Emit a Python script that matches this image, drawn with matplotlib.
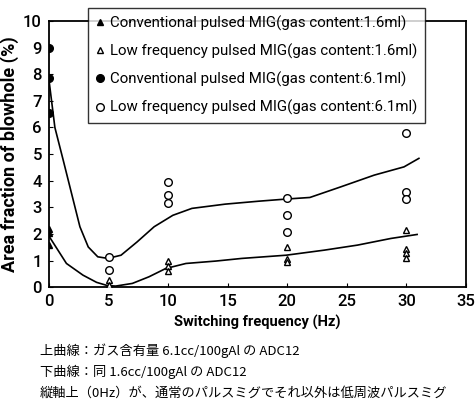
"""Blowhole area fraction vs switching frequency (pulsed MIG)."""

import matplotlib

matplotlib.use("Agg")
import matplotlib.pyplot as plt

# measured points
conv_16_x = [0, 0, 0]
conv_16_y = [1.58, 2.05, 2.2]
low_16_x = [5, 5, 10, 10, 10, 20, 20, 20, 30, 30, 30, 30]
low_16_y = [0.26, 0.08, 1.0, 0.8, 0.6, 1.51, 1.05, 0.95, 2.14, 1.45, 1.27, 1.08]
conv_61_x = [0, 0, 0]
conv_61_y = [8.97, 7.85, 6.53]
low_61_x = [5, 5, 10, 10, 10, 20, 20, 20, 30, 30, 30]
low_61_y = [1.14, 0.64, 3.96, 3.46, 3.17, 3.36, 2.73, 2.08, 5.80, 3.58, 3.31]

# hand-drawn trend curves
upper_x = [0.0, 0.5, 1.2, 1.9, 2.6, 3.3, 4.1, 4.94, 6.05, 7.4, 8.83, 10.4,
           12.0, 14.8, 17.6, 19.9, 21.9, 24.5, 27.3, 29.8, 31.05]
upper_y = [7.8, 6.0, 4.77, 3.52, 2.27, 1.51, 1.14, 1.08, 1.2, 1.7, 2.27, 2.7,
           2.96, 3.12, 3.23, 3.31, 3.37, 3.77, 4.21, 4.52, 4.84]
lower_x = [0.0, 1.47, 2.86, 4.0, 4.9, 5.6, 7.0, 8.4, 9.8, 11.5, 14.0, 16.2,
           19.9, 23.1, 25.9, 28.7, 30.9]
lower_y = [1.92, 0.89, 0.45, 0.18, 0.06, 0.04, 0.14, 0.39, 0.70, 0.89, 0.98,
           1.08, 1.2, 1.39, 1.58, 1.83, 1.98]

x_ticks = [0, 5, 10, 15, 20, 25, 30, 35]
y_ticks = list(range(0, 11))

legend_labels = [
    "Conventional pulsed MIG(gas content:1.6ml)",
    "Low frequency pulsed MIG(gas content:1.6ml)",
    "Conventional pulsed MIG(gas content:6.1ml)",
    "Low frequency pulsed MIG(gas content:6.1ml)",
]

notes = [
    "上曲線：ガス含有量 6.1cc/100gAl の ADC12",
    "下曲線：同 1.6cc/100gAl の ADC12",
    "縦軸上（0Hz）が、通常のパルスミグでそれ以外は低周波パルスミグ",
]

LATIN = ["Roboto", "DejaVu Sans"]
CJK = ["Noto Sans CJK JP", "DejaVu Sans"]

fig = plt.figure(figsize=(4.75, 4.05), dpi=100)
ax = fig.add_axes([0.103, 0.291, 0.878, 0.657])

ax.plot(upper_x, upper_y, color="black", lw=1.2, zorder=2)
ax.plot(lower_x, lower_y, color="black", lw=1.2, zorder=2)

h1, = ax.plot(conv_16_x, conv_16_y, "^", color="black", ms=5, ls="none", zorder=3)
h2, = ax.plot(low_16_x, low_16_y, "^", mfc="white", mec="black", mew=1.0,
              ms=5, ls="none", zorder=3)
h3, = ax.plot(conv_61_x, conv_61_y, "o", color="black", ms=5.5, ls="none", zorder=3)
h4, = ax.plot(low_61_x, low_61_y, "o", mfc="white", mec="black", mew=1.0,
              ms=5.5, ls="none", zorder=3)

ax.set_xlim(0, 35)
ax.set_ylim(0, 10)
ax.set_xticks(x_ticks)
ax.set_yticks(y_ticks)
ax.tick_params(direction="in", length=3, width=0.8, labelsize=12, pad=5)
for lab in ax.get_xticklabels() + ax.get_yticklabels():
    lab.set_family(LATIN)
    lab.set_fontweight("medium")
for sp in ax.spines.values():
    sp.set_linewidth(1.3)

ax.set_xlabel("Switching frequency (Hz)", family=LATIN, fontsize=10.5,
              fontweight="bold", labelpad=4)
ax.set_ylabel("Area fraction of blowhole (%)", family=LATIN, fontsize=13,
              fontweight="bold", labelpad=3)

leg = fig.legend([h1, h2, h3, h4], legend_labels, loc="upper left",
                 bbox_to_anchor=(0.185, 0.98), frameon=True, fancybox=False,
                 handlelength=0.6, handletextpad=0.4, borderpad=0.5,
                 labelspacing=0.85, borderaxespad=0,
                 prop={"family": LATIN, "size": 10.8})
leg.get_frame().set_edgecolor("black")
leg.get_frame().set_linewidth(1.0)

for i, line in enumerate(notes):
    fig.text(0.084, 0.135 - i * 0.053, line, family=CJK, fontsize=9.5,
             va="center", ha="left")

fig.savefig("out.png", dpi=100)
